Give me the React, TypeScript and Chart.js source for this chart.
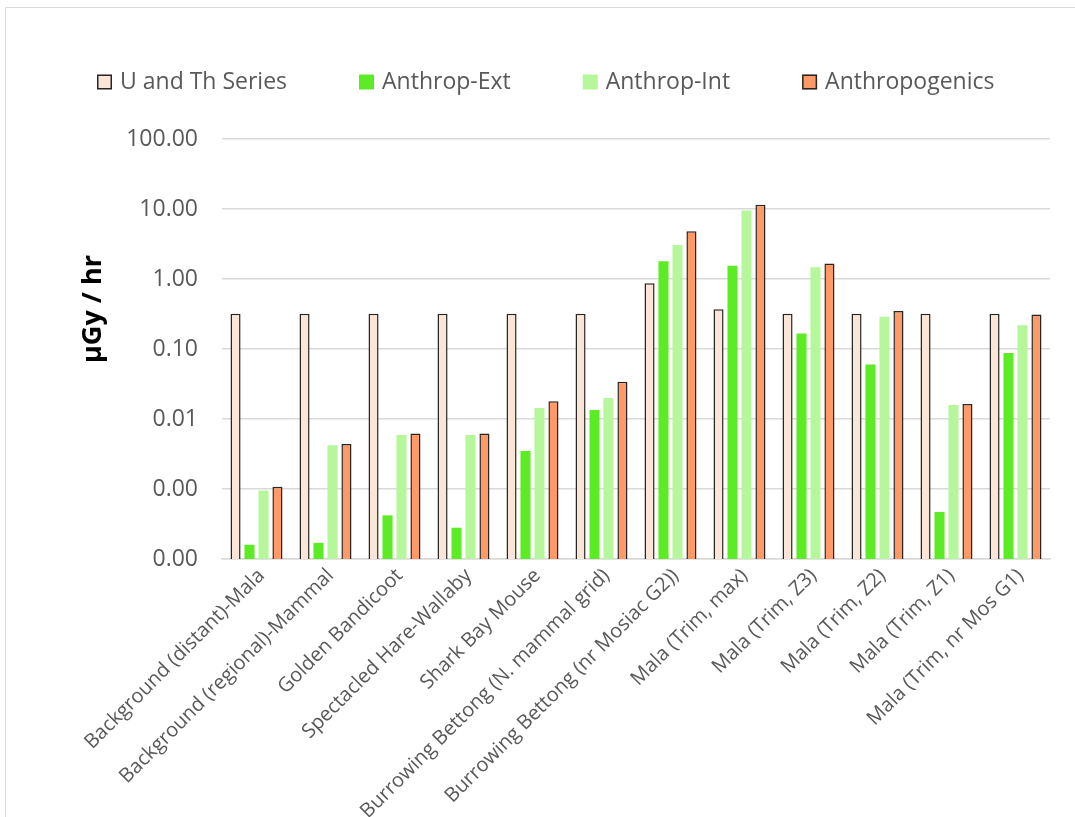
import React, { useEffect, useRef } from "react";
import { Chart, registerables } from "chart.js";

Chart.register(...registerables);

const categories = [
  "Background (distant)-Mala",
  "Background (regional)-Mammal",
  "Golden Bandicoot",
  "Spectacled Hare-Wallaby",
  "Shark Bay Mouse",
  "Burrowing Bettong (N. mammal grid)",
  "Burrowing Bettong (nr Mosiac G2))",
  "Mala (Trim, max)",
  "Mala (Trim, Z3)",
  "Mala (Trim, Z2)",
  "Mala (Trim, Z1)",
  "Mala (Trim, nr Mos G1)",
];

const uThSeries = [0.32, 0.32, 0.32, 0.32, 0.32, 0.32, 0.87, 0.37, 0.32, 0.32, 0.32, 0.32];
const anthropExt = [0.00016, 0.00017, 0.00042, 0.00028, 0.0035, 0.0135, 1.79, 1.55, 0.166, 0.06, 0.00047, 0.088];
const anthropInt = [0.00095, 0.0042, 0.0059, 0.0059, 0.0144, 0.02, 3.06, 9.5, 1.47, 0.29, 0.0158, 0.218];
const anthropogenics = [0.00108, 0.0044, 0.0062, 0.0062, 0.018, 0.034, 4.8, 11.5, 1.66, 0.35, 0.0164, 0.31];

const yTickValues = [0.0001, 0.001, 0.01, 0.1, 1, 10, 100];

const seriesNames = ["U and Th Series", "Anthrop-Ext", "Anthrop-Int", "Anthropogenics"];

const FONT = "'Open Sans', 'Liberation Sans', sans-serif";
const GREY = "#595959";

const customLegend = {
  id: "customLegend",
  afterDraw(chart: any) {
    const ctx = chart.ctx;
    const area = chart.chartArea;
    ctx.save();
    ctx.font = `23px ${FONT}`;
    ctx.textBaseline = "middle";
    ctx.textAlign = "left";
    let x = area.left - 125;
    const y = 74;
    const box = 15;
    chart.data.datasets.forEach((ds: any) => {
      ctx.fillStyle = ds.backgroundColor;
      ctx.fillRect(x, y - box / 2, box, box);
      if (ds.borderWidth > 0) {
        ctx.strokeStyle = ds.borderColor;
        ctx.lineWidth = 1.5;
        ctx.strokeRect(x + 0.75, y - box / 2 + 0.75, box - 1.5, box - 1.5);
      }
      ctx.fillStyle = GREY;
      const tx = x + box + 8;
      ctx.fillText(ds.label, tx, y);
      x = tx + ctx.measureText(ds.label).width + 72;
    });
    ctx.restore();
  },
};

const yTitle = {
  id: "yTitle",
  afterDraw(chart: any) {
    const ctx = chart.ctx;
    const area = chart.chartArea;
    ctx.save();
    ctx.translate(area.left - 129, (area.top + area.bottom) / 2 - 40);
    ctx.rotate(-Math.PI / 2);
    ctx.font = `bold 27px ${FONT}`;
    ctx.fillStyle = "#000000";
    ctx.textAlign = "center";
    ctx.textBaseline = "middle";
    ctx.fillText("\u00b5Gy / hr", 0, 0);
    ctx.restore();
  },
};

export default function App() {
  const ref = useRef<HTMLCanvasElement | null>(null);

  useEffect(() => {
    if (!ref.current) return;
    const chart = new Chart(ref.current, {
      type: "bar",
      data: {
        labels: categories,
        datasets: [
          {
            label: seriesNames[0],
            data: uThSeries,
            backgroundColor: "#FBE5D6",
            borderColor: "#262626",
            borderWidth: 1.5,
          },
          {
            label: seriesNames[1],
            data: anthropExt,
            backgroundColor: "#5CEB24",
            borderWidth: 0,
          },
          {
            label: seriesNames[2],
            data: anthropInt,
            backgroundColor: "#B6F79B",
            borderWidth: 0,
          },
          {
            label: seriesNames[3],
            data: anthropogenics,
            backgroundColor: "#FF9A66",
            borderColor: "#262626",
            borderWidth: 1.5,
          },
        ],
      },
      options: {
        responsive: false,
        animation: false,
        layout: { padding: { top: 131, right: 25, left: 0, bottom: 0 } },
        datasets: {
          bar: { categoryPercentage: 0.81, barPercentage: 0.72 },
        },
        plugins: {
          legend: { display: false },
          tooltip: { enabled: false },
        },
        scales: {
          x: {
            grid: { display: false },
            border: { display: true, color: "#d9d9d9", width: 1.5 },
            ticks: {
              autoSkip: false,
              minRotation: 45,
              maxRotation: 45,
              padding: -3,
              labelOffset: 5,
              color: GREY,
              font: { family: FONT, size: 20 },
            },
            afterFit(scale: any) {
              scale.height = 258;
            },
          },
          y: {
            type: "logarithmic",
            min: 0.0001,
            max: 100,
            grid: { color: "#d9d9d9", lineWidth: 1.5, drawTicks: false },
            border: { display: false },
            ticks: {
              padding: 24,
              color: GREY,
              font: { family: FONT, size: 23 },
              callback: (v: any) => Number(v).toFixed(2),
            },
            afterBuildTicks(scale: any) {
              scale.ticks = yTickValues.map((v) => ({ value: v }));
            },
            afterFit(scale: any) {
              scale.width = 216;
            },
          },
        },
      },
      plugins: [customLegend, yTitle],
    });
    return () => chart.destroy();
  }, []);

  return (
    <div
      style={{
        position: "absolute",
        left: 5,
        top: 7,
        borderTop: "1px solid #d9d9d9",
        borderLeft: "1px solid #d9d9d9",
        width: 1070,
        height: 810,
        background: "#fff",
      }}
    >
      <canvas ref={ref} width={1069} height={809} style={{ display: "block" }} />
    </div>
  );
}
